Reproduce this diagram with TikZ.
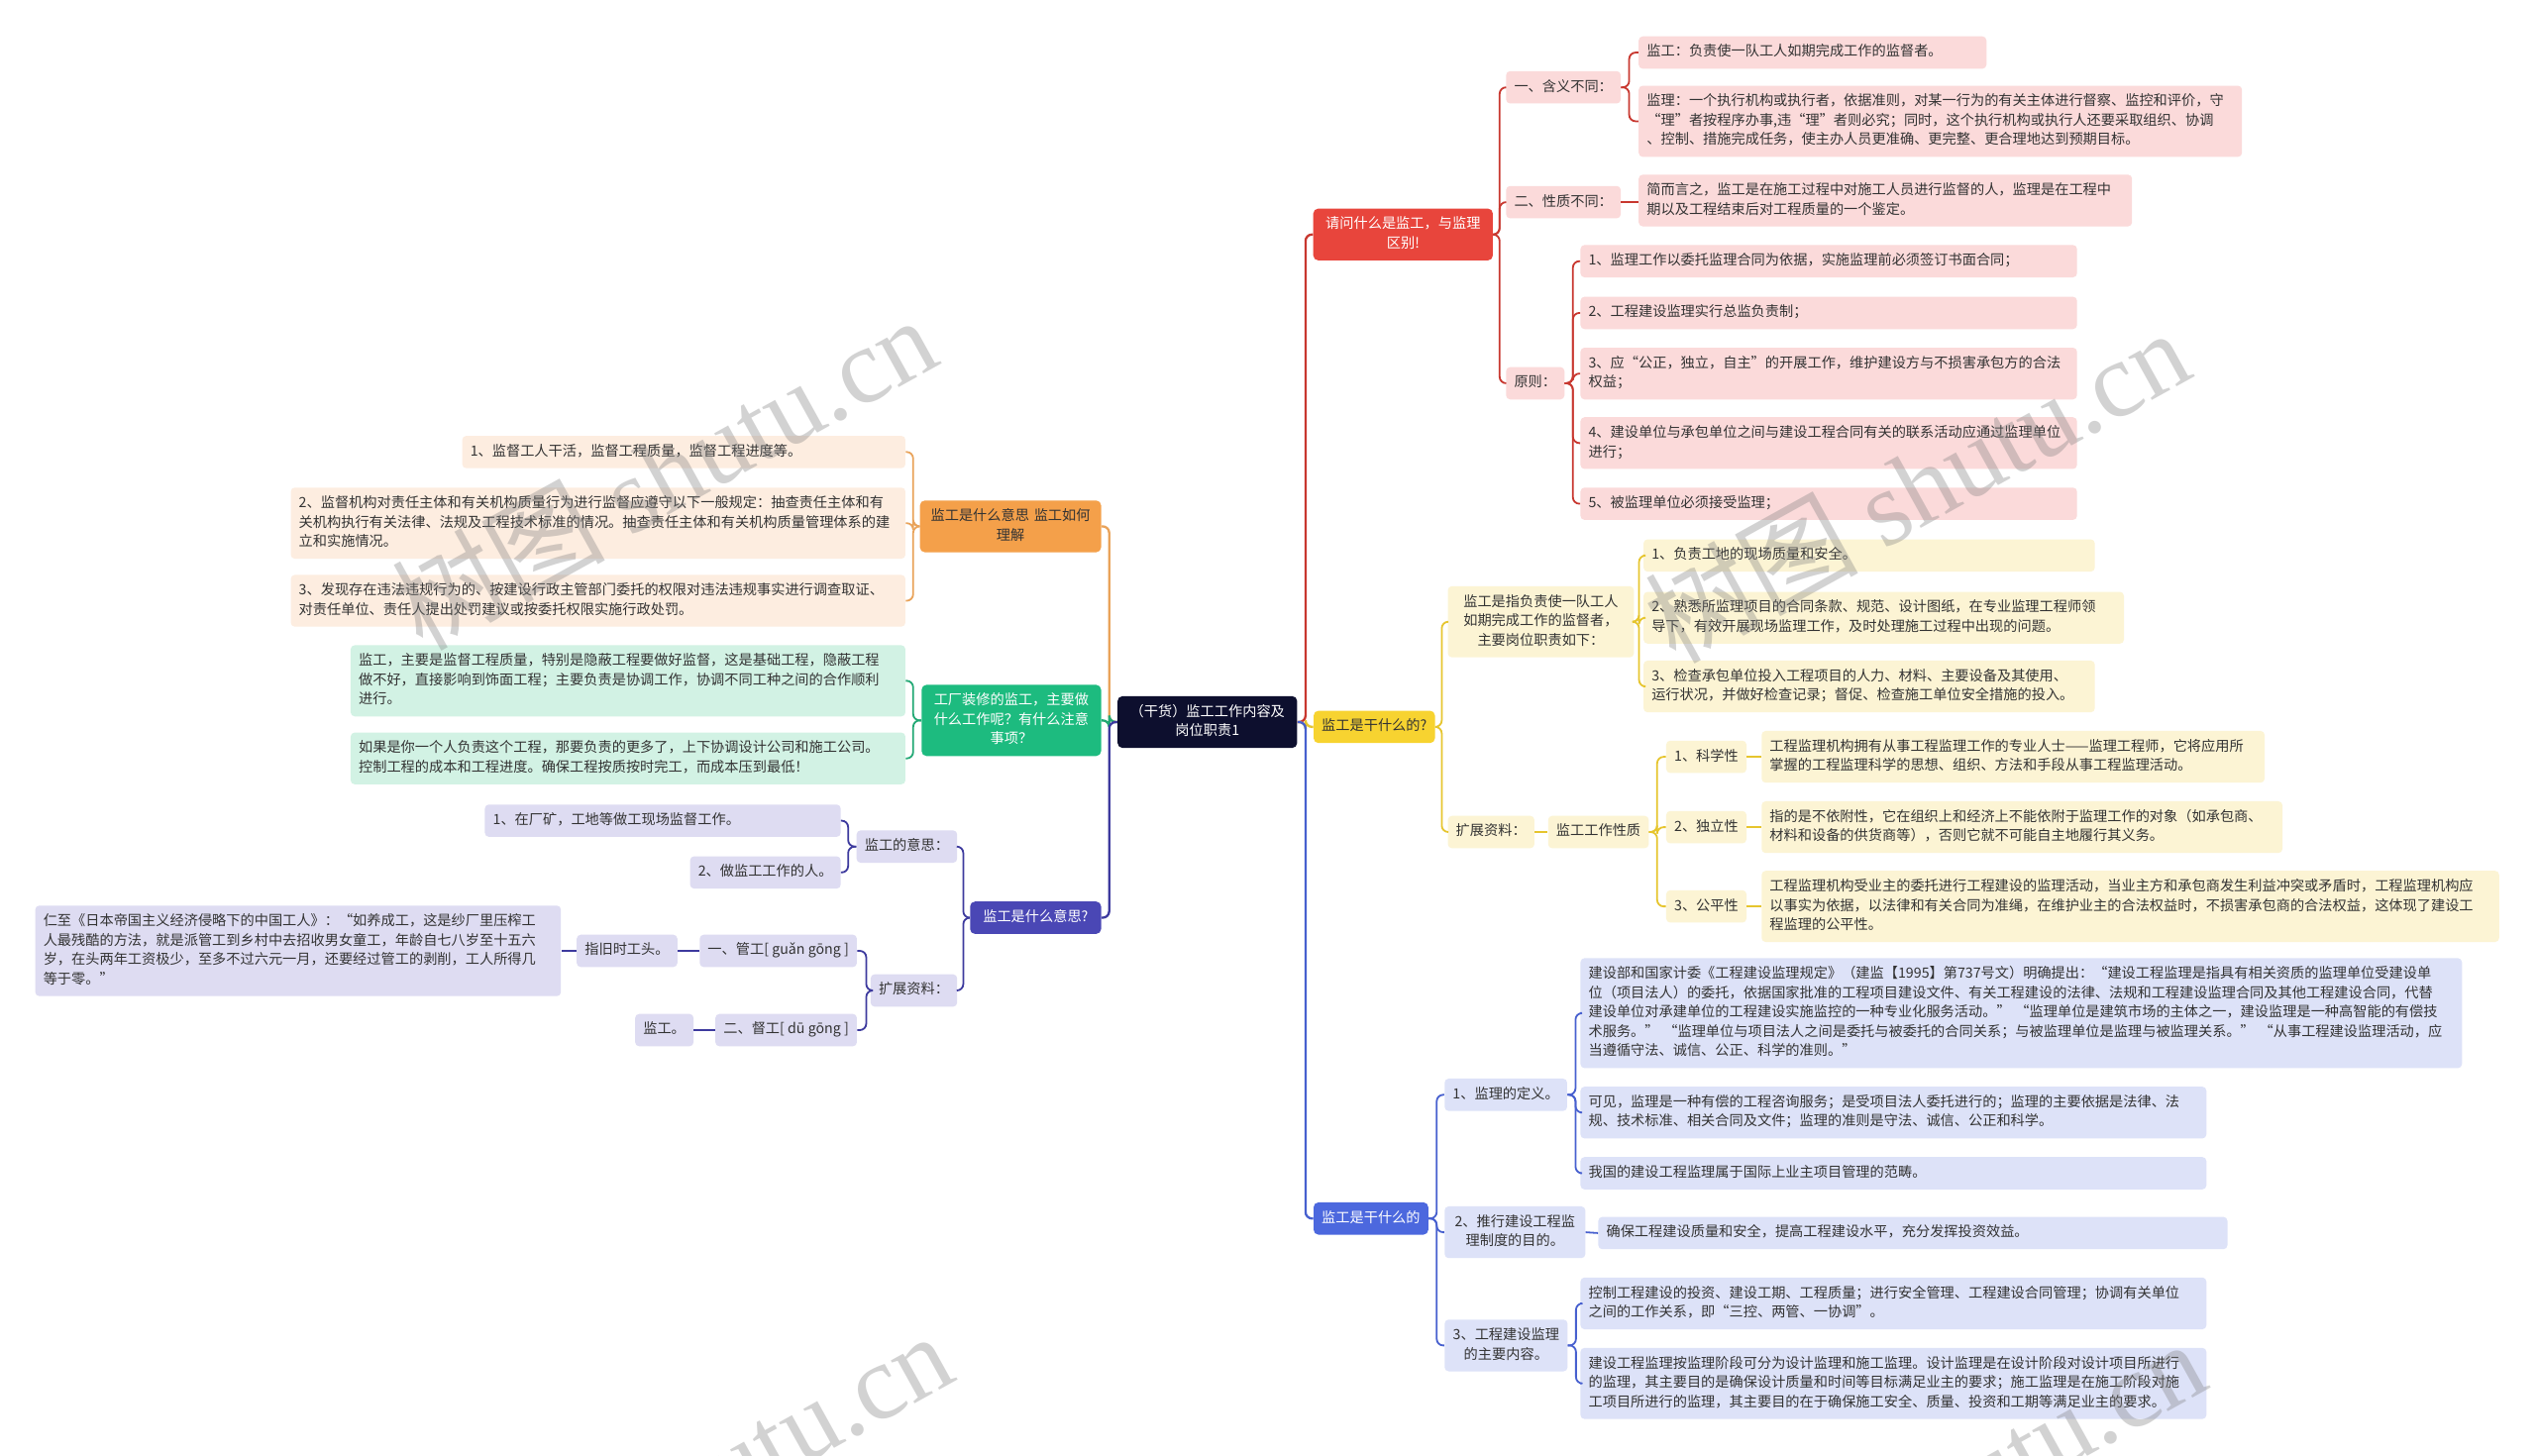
\documentclass[tikz,border=0pt]{standalone}
\usepackage{fontspec}
\setmainfont{Noto Sans CJK SC}
\newfontfamily\wmlatin{Liberation Serif}
\usetikzlibrary{calc}
\definecolor{ctrbg}{HTML}{0D0F2E}
\definecolor{txt}{HTML}{333333}
\definecolor{redmain}{HTML}{E8453C}
\definecolor{redlight}{HTML}{FBDADA}
\definecolor{redline}{HTML}{C8372F}
\definecolor{yelmain}{HTML}{F7D330}
\definecolor{yellight}{HTML}{FCF4D4}
\definecolor{yelline}{HTML}{E6C52E}
\definecolor{bluemain}{HTML}{4C68DE}
\definecolor{bluelight}{HTML}{DDE2F8}
\definecolor{blueline}{HTML}{4760CF}
\definecolor{ormain}{HTML}{F4A04A}
\definecolor{orlight}{HTML}{FDEDE0}
\definecolor{orline}{HTML}{E9A35A}
\definecolor{grmain}{HTML}{1DBB7F}
\definecolor{grlight}{HTML}{D2F2E4}
\definecolor{grline}{HTML}{22A874}
\definecolor{pumain}{HTML}{4A47B5}
\definecolor{pulight}{HTML}{DEDCF2}
\definecolor{puline}{HTML}{3D3A9E}
\newcommand\nfs{\fontsize{8.7pt}{12pt}\selectfont}
\begin{document}
\begin{tikzpicture}[x=1pt,y=-1pt,
  box/.style={font=\nfs, inner xsep=5pt, inner ysep=4pt, rounded corners=2.5pt,
    execute at begin node=\strut, execute at end node=\strut, align=left},
  ctrn/.style={box, fill=ctrbg, text=white, align=center, rounded corners=3pt},
  rmain/.style={box, fill=redmain, text=white, align=center, rounded corners=3pt},
  ymain/.style={box, fill=yelmain, text=txt, align=center, rounded corners=3pt},
  bmain/.style={box, fill=bluemain, text=white, align=center, rounded corners=3pt},
  omain/.style={box, fill=ormain, text=txt, align=center, rounded corners=3pt},
  gmain/.style={box, fill=grmain, text=white, align=center, rounded corners=3pt},
  pmain/.style={box, fill=pumain, text=white, align=center, rounded corners=3pt},
  rl/.style={box, fill=redlight, text=txt},
  yl/.style={box, fill=yellight, text=txt},
  bl/.style={box, fill=bluelight, text=txt},
  ol/.style={box, fill=orlight, text=txt},
  gl/.style={box, fill=grlight, text=txt},
  pl/.style={box, fill=pulight, text=txt},
  link/.style={line width=1.1pt, rounded corners=4pt},
  rline/.style={link, draw=redline},
  yline/.style={link, draw=yelline},
  bline/.style={link, draw=blueline},
  oline/.style={link, draw=orline},
  gline/.style={link, draw=grline},
  pline/.style={link, draw=puline},
  wm/.style={text=gray, opacity=0.35, font=\fontsize{66pt}{66pt}\selectfont, inner sep=0pt}
]
\useasboundingbox (0,0) rectangle (1568,900);
\fill[white] (0,0) rectangle (1568,900);

% ---------- centre ----------
\node[ctrn, text width=101pt] (ctr) at (746.5,446.5) {（干货）监工工作内容及\\岗位职责1};

% ---------- red branch ----------
\node[rmain, text width=101pt] (red) at (867.5,145) {请问什么是监工，与监理\\区别!};
\node[rl, anchor=west] (han) at (931,54) {一、含义不同：};
\node[rl, anchor=west, text width=205pt] (r1a) at (1013,32.5) {监工：负责使一队工人如期完成工作的监督者。};
\node[rl, anchor=west, text width=363pt] (r1b) at (1013,75) {监理：一个执行机构或执行者，依据准则，对某一行为的有关主体进行督察、监控和评价，守\\“理”者按程序办事,违“理”者则必究；同时，这个执行机构或执行人还要采取组织、协调\\、控制、措施完成任务，使主办人员更准确、更完整、更合理地达到预期目标。};
\node[rl, anchor=west] (xing) at (931,125) {二、性质不同：};
\node[rl, anchor=west, text width=295pt] (r2a) at (1013,124) {简而言之，监工是在施工过程中对施工人员进行监督的人，监理是在工程中\\期以及工程结束后对工程质量的一个鉴定。};
\node[rl, anchor=west] (yuan) at (931,237) {原则：};
\node[rl, anchor=west, text width=297pt] (p1) at (977,161.5) {1、监理工作以委托监理合同为依据，实施监理前必须签订书面合同；};
\node[rl, anchor=west, text width=297pt] (p2) at (977,193.5) {2、工程建设监理实行总监负责制；};
\node[rl, anchor=west, text width=297pt] (p3) at (977,231) {3、应“公正，独立，自主”的开展工作，维护建设方与不损害承包方的合法\\权益；};
\node[rl, anchor=west, text width=297pt] (p4) at (977,274) {4、建设单位与承包单位之间与建设工程合同有关的联系活动应通过监理单位\\进行；};
\node[rl, anchor=west, text width=297pt] (p5) at (977,311.5) {5、被监理单位必须接受监理；};

% ---------- yellow branch ----------
\node[ymain, anchor=west] (yel) at (812,449.5) {监工是干什么的?};
\node[yl, anchor=west, text width=105pt, align=center] (y1) at (895,384.5) {监工是指负责使一队工人\\如期完成工作的监督者，\\主要岗位职责如下：};
\node[yl, anchor=west, text width=269pt] (y1a) at (1016,343.5) {1、负责工地的现场质量和安全。};
\node[yl, anchor=west, text width=287pt] (y1b) at (1016,382) {2、熟悉所监理项目的合同条款、规范、设计图纸，在专业监理工程师领\\导下，有效开展现场监理工作，及时处理施工过程中出现的问题。};
\node[yl, anchor=west, text width=269pt] (y1c) at (1016,424.5) {3、检查承包单位投入工程项目的人力、材料、主要设备及其使用、\\运行状况，并做好检查记录；督促、检查施工单位安全措施的投入。};
\node[yl, anchor=west] (y2) at (895,514.5) {扩展资料：};
\node[yl, anchor=west] (y2a) at (957,514.5) {监工工作性质};
\node[yl, anchor=west] (k1) at (1030,468) {1、科学性};
\node[yl, anchor=west] (k2) at (1030,511.5) {2、独立性};
\node[yl, anchor=west] (k3) at (1030,560.5) {3、公平性};
\node[yl, anchor=west, text width=301pt] (k1a) at (1089,468) {工程监理机构拥有从事工程监理工作的专业人士——监理工程师，它将应用所\\掌握的工程监理科学的思想、组织、方法和手段从事工程监理活动。};
\node[yl, anchor=west, text width=312pt] (k2a) at (1089,511.5) {指的是不依附性，它在组织上和经济上不能依附于监理工作的对象（如承包商、\\材料和设备的供货商等），否则它就不可能自主地履行其义务。};
\node[yl, anchor=west, text width=446pt] (k3a) at (1089,560.5) {工程监理机构受业主的委托进行工程建设的监理活动，当业主方和承包商发生利益冲突或矛盾时，工程监理机构应\\以事实为依据，以法律和有关合同为准绳，在维护业主的合法权益时，不损害承包商的合法权益，这体现了建设工\\程监理的公平性。};

% ---------- blue branch ----------
\node[bmain, anchor=west] (blu) at (812,753.5) {监工是干什么的};
\node[bl, anchor=west] (b1) at (893,677) {1、监理的定义。};
\node[bl, anchor=west, text width=535pt] (b1a) at (977,626.5) {建设部和国家计委《工程建设监理规定》（建监【1995】第737号文）明确提出：“建设工程监理是指具有相关资质的监理单位受建设单\\位（项目法人）的委托，依据国家批准的工程项目建设文件、有关工程建设的法律、法规和工程建设监理合同及其他工程建设合同，代替\\建设单位对承建单位的工程建设实施监控的一种专业化服务活动。” “监理单位是建筑市场的主体之一，建设监理是一种高智能的有偿技\\术服务。” “监理单位与项目法人之间是委托与被委托的合同关系；与被监理单位是监理与被监理关系。” “从事工程建设监理活动，应\\当遵循守法、诚信、公正、科学的准则。”};
\node[bl, anchor=west, text width=377pt] (b1b) at (977,688) {可见，监理是一种有偿的工程咨询服务；是受项目法人委托进行的；监理的主要依据是法律、法\\规、技术标准、相关合同及文件；监理的准则是守法、诚信、公正和科学。};
\node[bl, anchor=west, text width=377pt] (b1c) at (977,725.5) {我国的建设工程监理属于国际上业主项目管理的范畴。};
\node[bl, anchor=west, text width=77pt, align=center] (b2) at (893,762) {2、推行建设工程监\\理制度的目的。};
\node[bl, anchor=west, text width=379pt] (b2a) at (988,762.5) {确保工程建设质量和安全，提高工程建设水平，充分发挥投资效益。};
\node[bl, anchor=west, text width=66pt, align=center] (b3) at (893,832) {3、工程建设监理\\的主要内容。};
\node[bl, anchor=west, text width=377pt] (b3a) at (977,806) {控制工程建设的投资、建设工期、工程质量；进行安全管理、工程建设合同管理；协调有关单位\\之间的工作关系，即“三控、两管、一协调”。};
\node[bl, anchor=west, text width=377pt] (b3b) at (977,855.5) {建设工程监理按监理阶段可分为设计监理和施工监理。设计监理是在设计阶段对设计项目所进行\\的监理，其主要目的是确保设计质量和时间等目标满足业主的要求；施工监理是在施工阶段对施\\工项目所进行的监理，其主要目的在于确保施工安全、质量、投资和工期等满足业主的要求。};

% ---------- orange branch ----------
\node[omain, anchor=east, text width=102pt] (ora) at (681,325.5) {监工是什么意思 监工如何\\理解};
\node[ol, anchor=east, text width=264pt] (o1) at (560,279.5) {1、监督工人干活，监督工程质量，监督工程进度等。};
\node[ol, anchor=east, text width=370pt] (o2) at (560,323.5) {2、监督机构对责任主体和有关机构质量行为进行监督应遵守以下一般规定：抽查责任主体和有\\关机构执行有关法律、法规及工程技术标准的情况。抽查责任主体和有关机构质量管理体系的建\\立和实施情况。};
\node[ol, anchor=east, text width=370pt] (o3) at (560,371.5) {3、发现存在违法违规行为的、按建设行政主管部门委托的权限对违法违规事实进行调查取证、\\对责任单位、责任人提出处罚建议或按委托权限实施行政处罚。};

% ---------- green branch ----------
\node[gmain, anchor=east, text width=101pt] (gre) at (681,445.5) {工厂装修的监工，主要做\\什么工作呢？有什么注意\\事项？};
\node[gl, anchor=east, text width=333pt] (g1) at (560,421) {监工，主要是监督工程质量，特别是隐蔽工程要做好监督，这是基础工程，隐蔽工程\\做不好，直接影响到饰面工程；主要负责是协调工作，协调不同工种之间的合作顺利\\进行。};
\node[gl, anchor=east, text width=333pt] (g2) at (560,469) {如果是你一个人负责这个工程，那要负责的更多了，上下协调设计公司和施工公司。\\控制工程的成本和工程进度。确保工程按质按时完工，而成本压到最低！};

% ---------- purple branch ----------
\node[pmain, anchor=east, text width=71pt] (pur) at (681,567.5) {监工是什么意思?};
\node[pl, anchor=east] (q1) at (592,523.5) {监工的意思：};
\node[pl, anchor=east, text width=210pt] (q1a) at (520,507.5) {1、在厂矿，工地等做工现场监督工作。};
\node[pl, anchor=east] (q1b) at (520,539.5) {2、做监工工作的人。};
\node[pl, anchor=east] (q2) at (592,612.5) {扩展资料：};
\node[pl, anchor=east] (q2a) at (530,588) {一、管工[ guǎn gōng ]};
\node[pl, anchor=east] (q2aa) at (419,588) {指旧时工头。};
\node[pl, anchor=east, text width=315pt] (q2aaa) at (347,588) {仁至《日本帝国主义经济侵略下的中国工人》：“如养成工，这是纱厂里压榨工\\人最残酷的方法，就是派管工到乡村中去招收男女童工，年龄自七八岁至十五六\\岁，在头两年工资极少，至多不过六元一月，还要经过管工的剥削，工人所得几\\等于零。”};
\node[pl, anchor=east] (q2b) at (530,637) {二、督工[ dū gōng ]};
\node[pl, anchor=east] (q2ba) at (429,637) {监工。};

% ---------- connectors: trunk ----------
\draw[rline, line width=1.4pt] (ctr.east) -- ++(5,0) |- (red.west);
\draw[yline, line width=1.4pt] (ctr.east) -- ++(5,0) |- (yel.west);
\draw[bline, line width=1.4pt] (ctr.east) -- ++(5,0) |- (blu.west);
\draw[oline, line width=1.4pt] (ctr.west) -- ++(-5,0) |- (ora.east);
\draw[gline, line width=1.4pt] (ctr.west) -- ++(-5,0) |- (gre.east);
\draw[pline, line width=1.4pt] (ctr.west) -- ++(-5,0) |- (pur.east);

% red
\foreach \c in {han,xing,yuan} \draw[rline] (red.east) -- ++(4,0) |- (\c.west);
\foreach \c in {r1a,r1b} \draw[rline] (han.east) -- ++(5,0) |- (\c.west);
\draw[rline] (xing.east) -- (r2a.west |- xing.east);
\foreach \c in {p1,p2,p3,p4,p5} \draw[rline] (yuan.east) -- ++(5,0) |- (\c.west);

% yellow
\foreach \c in {y1,y2} \draw[yline] (yel.east) -- ++(4,0) |- (\c.west);
\foreach \c in {y1a,y1b,y1c} \draw[yline] (y1.east) -- ++(3,0) |- (\c.west);
\draw[yline] (y2.east) -- (y2a.west);
\foreach \c in {k1,k2,k3} \draw[yline] (y2a.east) -- ++(5,0) |- (\c.west);
\draw[yline] (k1.east) -- (k1a.west);
\draw[yline] (k2.east) -- (k2a.west);
\draw[yline] (k3.east) -- (k3a.west);

% blue
\foreach \c in {b1,b2,b3} \draw[bline] (blu.east) -- ++(5,0) |- (\c.west);
\foreach \c in {b1a,b1b,b1c} \draw[bline] (b1.east) -- ++(5,0) |- (\c.west);
\draw[bline] (b2.east) -- (b2a.west);
\foreach \c in {b3a,b3b} \draw[bline] (b3.east) -- ++(5,0) |- (\c.west);

% orange
\foreach \c in {o1,o2,o3} \draw[oline] (ora.west) -- ++(-4,0) |- (\c.east);
% green
\foreach \c in {g1,g2} \draw[gline] (gre.west) -- ++(-5,0) |- (\c.east);
% purple
\foreach \c in {q1,q2} \draw[pline] (pur.west) -- ++(-4,0) |- (\c.east);
\foreach \c in {q1a,q1b} \draw[pline] (q1.west) -- ++(-5,0) |- (\c.east);
\foreach \c in {q2a,q2b} \draw[pline] (q2.west) -- ++(-2.5,0) |- (\c.east);
\draw[pline] (q2a.west) -- (q2aa.east);
\draw[pline] (q2aa.west) -- (q2aaa.east |- q2aa.west);
\draw[pline] (q2b.west) -- (q2ba.east);

% ---------- watermarks ----------
\begin{scope}
\clip (0,0) rectangle (1568,900);
\node[wm, rotate=29] (wm1) at (410,292) {树图 {\wmlatin shutu.cn}};
\node[wm, rotate=29] (wm2) at (1185,300) {树图 {\wmlatin shutu.cn}};
\node[wm, rotate=29] (wm3) at (420,920) {树图 {\wmlatin shutu.cn}};
\node[wm, rotate=29] (wm4) at (1195,925) {树图 {\wmlatin shutu.cn}};
\end{scope}
\end{tikzpicture}
\end{document}
